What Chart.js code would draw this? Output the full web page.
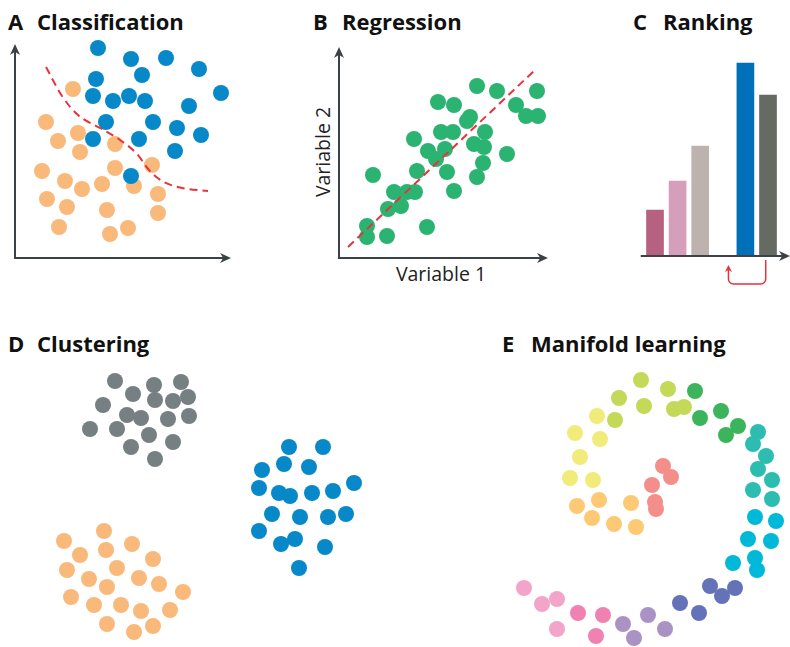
<!DOCTYPE html>
<html>
<head>
<meta charset="utf-8">
<script src="https://cdn.jsdelivr.net/npm/chart.js@4.4.0/dist/chart.umd.min.js"></script>
<style>
  body { margin: 0; background: #fff; width: 790px; height: 647px; overflow: hidden; position: relative; font-family: 'Open Sans', sans-serif; }
  canvas { position: absolute; }
  .t { position: absolute; font-weight: 700; font-size: 22px; line-height: 22px; color: #111; white-space: nowrap; }
  .lab { position: absolute; font-size: 19.5px; line-height: 20px; color: #222; white-space: nowrap; transform: translate(-50%, -50%); }
</style>
</head>
<body>
<div class="t" style="left:8px;top:10px">A</div><div class="t" style="left:37px;top:10px">Classification</div>
<div class="t" style="left:313px;top:10px">B</div><div class="t" style="left:342px;top:10px">Regression</div>
<div class="t" style="left:633px;top:10px">C</div><div class="t" style="left:663px;top:10px">Ranking</div>
<div class="t" style="left:8px;top:332px">D</div><div class="t" style="left:37px;top:332px">Clustering</div>
<div class="t" style="left:502px;top:332px">E</div><div class="t" style="left:531px;top:332px">Manifold learning</div>
<div class="lab" style="left:441px;top:274px">Variable 1</div>
<div class="lab" style="left:323px;top:152px;transform:translate(-50%,-50%) rotate(-90deg)">Variable 2</div>

<canvas id="chartA" width="245" height="235" style="left:0;top:35px"></canvas>
<canvas id="chartB" width="225" height="235" style="left:330px;top:35px"></canvas>
<canvas id="chartC" width="154" height="250" style="left:636px;top:40px"></canvas>
<canvas id="chartD" width="380" height="287" style="left:0;top:360px"></canvas>
<canvas id="chartE" width="300" height="287" style="left:490px;top:360px"></canvas>

<script>
// A - classification
const clsBlue = [[83,210],[116,199],[151,200],[184,189],[127,183],[81,179],[206,165],[78,162],[98,157],[114,162],
  [130,157],[174,152],[91,136],[138,136],[162,130],[186,123],[78,119],[124,119],[160,107],[116,82]];
const clsOrange = [[58,169],[31,136],[43,117],[63,125],[65,106],[100,114],[27,87],[50,77],[67,69],[87,74],
  [100,90],[137,93],[119,72],[143,64],[32,59],[52,51],[92,48],[143,45],[44,31],[95,24],[113,30]];
const clsBoundary = [[31,191],[47,162],[63,143],[85,130],[105,118],[122,104],[134,88],[147,77],[167,70],[193,67]];

// B - regression
const regPoints = [[138,172],[158,167],[198,167],[99,156],[115,153],[177,153],[187,142],[199,142],[131,141],[128,137],
  [102,126],[114,126],[146,126],[75,119],[135,114],[145,111],[89,107],[106,109],[97,99],[168,104],
  [144,95],[78,87],[108,86],[34,83],[138,81],[55,66],[68,66],[76,66],[115,67],[49,49],
  [62,52],[28,32],[28,21],[48,22],[88,31]];
const regLine = [[9,11],[197,189]];

// C - ranking
const rankLabels = ['r1', 'r2', 'r3', '', 'r4', 'r5'];
const rankValues = [46, 75, 110, null, 193, 161];
const rankColors = ['#b5617f', '#d59fbb', '#beb2af', '#ffffff', '#0070b8', '#656a63'];
const rankMove = [4.9, 3.25];

// D - clustering
const cluGray = [[115,266],[154,262],[181,265],[133,253],[155,247],[173,246],[188,250],[103,242],[127,232],[141,229],
  [168,228],[189,231],[90,218],[117,218],[149,212],[173,205],[131,200],[155,188]];
const cluBlue = [[289,200],[323,200],[284,183],[309,180],[262,177],[259,159],[279,154],[290,151],[312,154],[333,156],
  [354,164],[272,133],[300,130],[328,130],[346,133],[259,116],[281,103],[295,108],[325,100],[299,79]];
const cluOrange = [[104,116],[64,106],[132,103],[80,92],[106,97],[153,88],[67,77],[117,79],[139,69],[89,68],
  [159,63],[107,60],[183,55],[71,50],[94,42],[121,42],[141,36],[170,37],[107,23],[134,15],[153,21]];

// E - manifold learning (spiral, inner end to outer end)
const manSalmon = [[173,181],[181,170],[162,162],[165,145],[166,138]];
const manOrange = [[87,141],[109,147],[102,129],[124,123],[141,144],[146,120]];
const manYellow = [[107,231],[85,214],[110,208],[90,190],[80,169],[103,167]];
const manLime = [[151,267],[178,258],[129,249],[154,241],[184,238],[194,240],[125,227]];
const manGreen = [[205,256],[231,236],[210,229],[248,221],[236,212]];
const manTeal = [[268,215],[263,203],[276,191],[268,178],[282,167],[263,157],[282,148]];
const manCyan = [[265,130],[286,126],[258,108],[281,106],[243,84],[265,89],[267,77]];
const manSlate = [[220,61],[245,59],[232,51],[190,44],[209,34]];
const manPurple = [[158,32],[133,23],[175,18],[144,9]];
const manPink = [[88,34],[113,32],[106,11]];
const manLightPink = [[34,59],[52,43],[67,48],[67,18]];

Chart.defaults.animation = false;
Chart.defaults.responsive = false;
Chart.defaults.events = [];
Chart.defaults.plugins.legend.display = false;
Chart.defaults.plugins.tooltip.enabled = false;

const RED = '#e8333b';
const AXIS = '#3b4245';

const arrowHead = (ctx, x, y, ang, len = 11, half = 5) => {
    ctx.save();
    ctx.translate(x, y);
    ctx.rotate(ang);
    ctx.beginPath();
    ctx.moveTo(0, 0);
    ctx.lineTo(-len, -half);
    ctx.lineTo(-len * 0.7, 0);
    ctx.lineTo(-len, half);
    ctx.closePath();
    ctx.fill();
    ctx.restore();
};

// L-shaped axes with arrowheads, ends given in data units
const axesPlugin = {
    id: 'axes',
    beforeDatasetsDraw(chart, args, opts) {
        if (opts.x === undefined) return;
        const { ctx, scales: { x, y } } = chart;
        const x0 = x.getPixelForValue(0), y0 = y.getPixelForValue(0);
        const x1 = x.getPixelForValue(opts.x), y1 = y.getPixelForValue(opts.y);
        ctx.save();
        ctx.strokeStyle = AXIS;
        ctx.fillStyle = AXIS;
        ctx.lineWidth = 2;
        ctx.beginPath();
        ctx.moveTo(x0, y1 + 5);
        ctx.lineTo(x0, y0);
        ctx.lineTo(x1 - 5, y0);
        ctx.stroke();
        arrowHead(ctx, x1, y0, 0);
        arrowHead(ctx, x0, y1, -Math.PI / 2);
        ctx.restore();
    }
};

const toXY = pts => pts.map(([x, y]) => ({ x, y }));

const dots = (pts, color, order) => ({
    data: toXY(pts),
    backgroundColor: color,
    pointRadius: 8,
    pointBorderWidth: 0,
    borderWidth: 0,
    order: order,
    clip: false
});

const dashed = (pts, smooth) => ({
    type: 'line',
    data: toXY(pts),
    showLine: true,
    borderColor: RED,
    borderWidth: 2,
    borderDash: [8, 5],
    pointRadius: 0,
    fill: false,
    tension: smooth ? 0.4 : 0,
    cubicInterpolationMode: smooth ? 'monotone' : 'default',
    order: -1,
    clip: false
});

const scatterChart = (id, xRange, yRange, datasets, axes) => new Chart(document.getElementById(id), {
    type: 'scatter',
    data: { datasets },
    options: {
        layout: { padding: 0, autoPadding: false },
        scales: {
            x: { type: 'linear', display: false, min: xRange[0], max: xRange[1] },
            y: { type: 'linear', display: false, min: yRange[0], max: yRange[1] }
        },
        plugins: { axes: axes || {} }
    },
    plugins: [axesPlugin]
});

scatterChart('chartA', [-15, 230], [-12, 223], [
    dashed(clsBoundary, true),
    dots(clsBlue, '#0788c8', 0),
    dots(clsOrange, '#f8b97b', 1)
], { x: 216, y: 214 });

scatterChart('chartB', [-9, 216], [-12, 223], [
    dashed(regLine, false),
    dots(regPoints, '#2bb371', 0)
], { x: 209, y: 211 });

scatterChart('chartD', [0, 380], [0, 287], [
    dots(cluGray, '#767f81', 0),
    dots(cluBlue, '#0788c8', 0),
    dots(cluOrange, '#f8b97b', 0)
]);

scatterChart('chartE', [0, 300], [0, 287], [
    dots(manSalmon, '#f38e8b', 0),
    dots(manOrange, '#fec974', 0),
    dots(manYellow, '#f1eb7a', 0),
    dots(manLime, '#c4d957', 0),
    dots(manGreen, '#3cb45c', 0),
    dots(manTeal, '#2cbdb0', 0),
    dots(manCyan, '#00b8d8', 0),
    dots(manSlate, '#6472b8', 0),
    dots(manPurple, '#ab92c5', 0),
    dots(manPink, '#ef82b0', 0),
    dots(manLightPink, '#f2a5c8', 0)
]);

// baseline with arrow + red "re-rank" arrow under the bars
const rankPlugin = {
    id: 'rank',
    afterDatasetsDraw(chart) {
        const { ctx, chartArea, scales: { x, y } } = chart;
        const y0 = y.getPixelForValue(0);
        ctx.save();
        ctx.strokeStyle = AXIS;
        ctx.fillStyle = AXIS;
        ctx.lineWidth = 2;
        ctx.beginPath();
        ctx.moveTo(chartArea.left - 3, y0);
        ctx.lineTo(chart.width - 4, y0);
        ctx.stroke();
        arrowHead(ctx, chart.width, y0, 0);

        const xa = x.getPixelForValue(rankMove[0]);
        const xb = x.getPixelForValue(rankMove[1]);
        const yBot = y0 + 28, r = 5;
        ctx.strokeStyle = RED;
        ctx.fillStyle = RED;
        ctx.lineWidth = 1.5;
        ctx.beginPath();
        ctx.moveTo(xa, y0 + 4);
        ctx.lineTo(xa, yBot - r);
        ctx.arcTo(xa, yBot, xa - r, yBot, r);
        ctx.lineTo(xb + r, yBot);
        ctx.arcTo(xb, yBot, xb, yBot - r, r);
        ctx.lineTo(xb, y0 + 14);
        ctx.stroke();
        arrowHead(ctx, xb, y0 + 9, -Math.PI / 2, 7, 3.5);
        ctx.restore();
    }
};

new Chart(document.getElementById('chartC'), {
    type: 'bar',
    data: {
        labels: rankLabels,
        datasets: [{
            data: rankValues,
            backgroundColor: rankColors,
            borderWidth: 0,
            barThickness: 17
        }]
    },
    options: {
        layout: { padding: { left: 7.7, right: 10.7, top: 0, bottom: 34 } },
        scales: {
            x: { display: false },
            y: { display: false, min: 0, max: 216 }
        }
    },
    plugins: [rankPlugin]
});
</script>
</body>
</html>
